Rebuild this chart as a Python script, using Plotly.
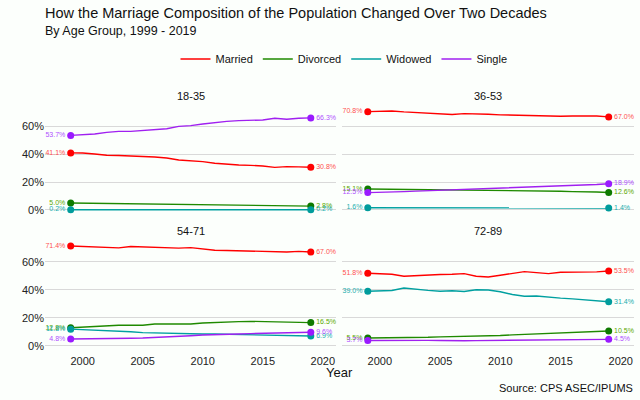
import plotly.graph_objects as go
from plotly.subplots import make_subplots

years = list(range(1999, 2020))
age_groups = ["18-35", "36-53", "54-71", "72-89"]
statuses = ["Married", "Divorced", "Widowed", "Single"]

married_18_35 = [41.1, 41.0, 40.3, 39.4, 39.2, 38.6, 38.5, 38.1, 37.4, 36.0, 35.5, 34.8, 33.6, 32.9, 32.4, 32.1, 31.7, 30.7, 31.2, 31.0, 30.8]
divorced_18_35 = [5.0, 4.9, 4.8, 4.8, 4.6, 4.7, 4.5, 4.4, 4.4, 4.2, 4.1, 4.1, 3.9, 3.8, 3.7, 3.4, 3.3, 3.1, 3.0, 2.9, 2.8]
widowed_18_35 = [0.2, 0.2, 0.2, 0.3, 0.2, 0.2, 0.2, 0.2, 0.2, 0.2, 0.2, 0.2, 0.2, 0.2, 0.2, 0.2, 0.2, 0.2, 0.2, 0.2, 0.2]
single_18_35 = [53.7, 54.0, 54.7, 55.9, 56.6, 56.6, 57.1, 57.6, 58.5, 60.2, 60.7, 61.9, 63.0, 63.8, 64.3, 64.5, 64.8, 66.0, 65.3, 66.0, 66.3]

married_36_53 = [70.8, 71.0, 71.3, 70.6, 70.1, 69.8, 69.4, 68.7, 69.4, 68.9, 68.9, 68.5, 68.2, 68.0, 67.7, 67.5, 67.5, 67.7, 67.7, 67.7, 67.0]
divorced_36_53 = [15.1, 15.0, 14.9, 14.9, 14.8, 14.8, 14.7, 14.7, 14.6, 14.6, 14.5, 14.4, 14.4, 14.3, 14.1, 13.9, 13.5, 13.2, 13.3, 12.9, 12.6]
widowed_36_53 = [1.6, 1.6, 1.6, 1.5, 1.6, 1.5, 1.5, 1.5, 1.5, 1.5, 1.5, 1.5, 1.4, 1.5, 1.4, 1.4, 1.4, 1.4, 1.4, 1.4, 1.4]
single_36_53 = [12.5, 12.6, 12.7, 13.2, 13.6, 13.9, 14.1, 14.4, 14.8, 15.0, 15.3, 15.6, 16.0, 16.3, 16.6, 17.1, 17.4, 17.5, 17.8, 18.3, 18.9]

married_54_71 = [71.4, 71.0, 70.5, 70.0, 70.0, 71.0, 70.7, 70.0, 69.8, 69.8, 70.2, 69.0, 68.3, 68.1, 67.9, 67.4, 67.1, 67.1, 67.1, 67.5, 67.0]
divorced_54_71 = [12.8, 13.3, 13.9, 14.3, 14.6, 14.6, 14.6, 15.5, 15.5, 16.0, 15.5, 16.2, 16.7, 17.0, 17.2, 17.4, 17.2, 16.7, 16.5, 16.4, 16.5]
widowed_54_71 = [11.8, 11.5, 11.2, 10.8, 10.5, 9.9, 9.3, 9.0, 8.8, 8.5, 8.3, 8.3, 8.3, 8.1, 7.9, 7.7, 7.6, 7.6, 7.6, 7.3, 6.9]
single_54_71 = [4.8, 4.8, 4.9, 5.0, 5.2, 5.3, 5.5, 5.8, 6.2, 6.6, 7.1, 7.6, 8.0, 8.2, 8.3, 8.6, 8.9, 9.2, 9.4, 9.5, 9.6]

married_72_89 = [51.8, 51.5, 51.1, 49.7, 50.2, 50.5, 50.9, 51.1, 51.6, 49.7, 49.2, 50.4, 51.6, 53.0, 52.3, 51.6, 52.6, 52.6, 52.6, 52.8, 53.5]
divorced_72_89 = [5.5, 5.5, 5.6, 5.6, 5.8, 6.0, 6.3, 6.4, 6.5, 6.7, 7.0, 7.3, 7.7, 8.0, 8.3, 8.8, 9.2, 9.5, 9.8, 10.1, 10.5]
widowed_72_89 = [39.0, 39.2, 39.5, 41.3, 40.3, 39.6, 39.0, 39.3, 38.8, 40.0, 39.8, 38.6, 36.6, 35.4, 35.6, 34.7, 34.0, 33.5, 32.8, 32.1, 31.4]
single_72_89 = [3.7, 3.8, 3.8, 3.6, 3.7, 3.8, 3.7, 3.4, 3.5, 3.6, 3.7, 3.7, 3.7, 3.8, 3.8, 3.9, 4.0, 4.1, 4.2, 4.3, 4.5]

x_ticks = [2000, 2005, 2010, 2015, 2020]
y_ticks = [0, 20, 40, 60]
y_tick_labels = ["0%", "20%", "40%", "60%"]

data = {
    "18-35": [married_18_35, divorced_18_35, widowed_18_35, single_18_35],
    "36-53": [married_36_53, divorced_36_53, widowed_36_53, single_36_53],
    "54-71": [married_54_71, divorced_54_71, widowed_54_71, single_54_71],
    "72-89": [married_72_89, divorced_72_89, widowed_72_89, single_72_89],
}

line_colors = ["#FF0000", "#1F8A00", "#00A0A0", "#A020F0"]
marker_colors = ["#FF0000", "#0E7A00", "#009C9C", "#9A1AFF"]
label_colors = ["#FF5050", "#5AA800", "#20ADAD", "#B050FF"]

BG = "#FCFFFC"
FONT = "Liberation Sans, Arial, sans-serif"

fig = make_subplots(rows=2, cols=2)

x_dom = [[45 / 640, 336 / 640], [342 / 640, 634 / 640]]
y_dom = [[1 - 214.7 / 400, 1 - 105.8 / 400], [1 - 350.4 / 400, 1 - 240.9 / 400]]

for gi, grp in enumerate(age_groups):
    r, c = gi // 2 + 1, gi % 2 + 1
    for si, st in enumerate(statuses):
        vals = data[grp][si]
        fig.add_trace(go.Scatter(
            x=years, y=vals, mode="lines", name=st, legendgroup=st,
            showlegend=(gi == 0),
            line=dict(color=line_colors[si], width=1.4),
            hoverinfo="skip"), row=r, col=c)
    for si, st in enumerate(statuses):
        vals = data[grp][si]
        ends_x = [years[0], years[-1]]
        ends_y = [vals[0], vals[-1]]
        fig.add_trace(go.Scatter(
            x=ends_x, y=ends_y, mode="markers+text", legendgroup=st,
            showlegend=False,
            marker=dict(color=marker_colors[si], size=7),
            text=[f"{v:.1f}%" for v in ends_y],
            textposition=["middle left", "middle right"],
            textfont=dict(size=7, color=label_colors[si], family=FONT),
            cliponaxis=False, hoverinfo="skip"), row=r, col=c)

for gi in range(4):
    r, c = gi // 2, gi % 2
    idx = "" if gi == 0 else str(gi + 1)
    fig.layout["xaxis" + idx].update(
        domain=x_dom[c], range=[1996.86, 2021.1], showgrid=False, zeroline=False,
        tickmode="array", tickvals=x_ticks, ticktext=[str(v) for v in x_ticks],
        showticklabels=(r == 1), ticks="", ticklabelstandoff=3,
        tickfont=dict(size=11, color="#222222", family=FONT), showline=False)
    fig.layout["yaxis" + idx].update(
        domain=y_dom[r], range=[-3.4, 75], showgrid=True, gridcolor="#D9D9D9", gridwidth=1,
        zeroline=False, tickmode="array", tickvals=y_ticks, ticktext=y_tick_labels,
        showticklabels=(c == 0), ticks="",
        tickfont=dict(size=11, color="#222222", family=FONT), showline=False)

annotations = []
for gi, grp in enumerate(age_groups):
    r, c = gi // 2, gi % 2
    annotations.append(dict(
        text=grp, xref="paper", yref="paper",
        x=(x_dom[c][0] + x_dom[c][1]) / 2, y=1 - (96 if r == 0 else 231) / 400,
        xanchor="center", yanchor="middle", showarrow=False,
        font=dict(size=11, color="#111111", family=FONT)))
annotations.append(dict(text="By Age Group, 1999 - 2019", xref="paper", yref="paper",
                        x=43 / 640, y=1 - 31 / 400, xanchor="left", yanchor="middle",
                        showarrow=False, font=dict(size=12.5, color="#111111", family=FONT)))
annotations.append(dict(text="Year", xref="paper", yref="paper",
                        x=339 / 640, y=1 - 372 / 400, xanchor="center", yanchor="middle",
                        showarrow=False, font=dict(size=13, color="#111111", family=FONT)))
annotations.append(dict(text="Source: CPS ASEC/IPUMS", xref="paper", yref="paper",
                        x=635 / 640, y=1 - 388 / 400, xanchor="right", yanchor="middle",
                        showarrow=False, font=dict(size=11, color="#111111", family=FONT)))

fig.update_layout(
    width=640, height=400,
    margin=dict(l=0, r=0, t=0, b=0),
    paper_bgcolor=BG, plot_bgcolor=BG,
    title=dict(text="How the Marriage Composition of the Population Changed Over Two Decades",
               x=45 / 640, xanchor="left", y=1 - 12.5 / 400, yanchor="middle",
               font=dict(size=14.5, color="#111111", family=FONT)),
    legend=dict(orientation="h", x=344 / 640, xanchor="center", y=1 - 59 / 400, yanchor="middle",
                font=dict(size=11, color="#111111", family=FONT), itemwidth=30,
                bgcolor="rgba(0,0,0,0)"),
    annotations=annotations,
    font=dict(family=FONT),
)

fig.write_html("out.html", config={"displayModeBar": False},
               post_script="document.body.style.margin='0';document.body.style.padding='0';document.body.style.background='#FCFFFC';")
